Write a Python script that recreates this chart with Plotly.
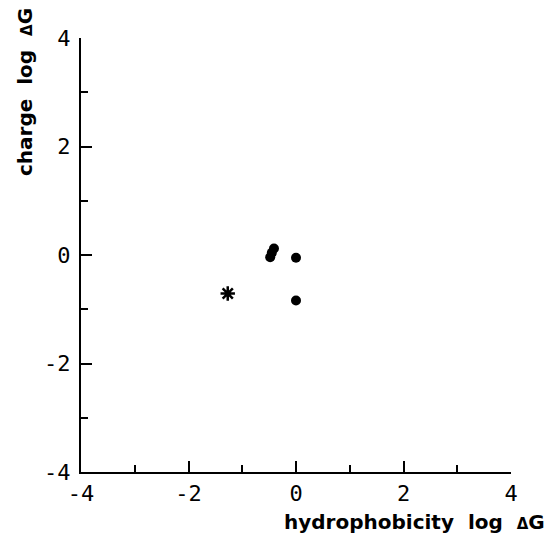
import plotly.graph_objects as go

# data
dot_x = [-0.48, -0.45, -0.41, 0.0, 0.0]
dot_y = [-0.04, 0.04, 0.12, -0.05, -0.84]
star_x = [-1.27]
star_y = [-0.71]
tick_vals = [-4, -2, 0, 2, 4]
tick_text = ["-4", "-2", "0", "2", "4"]
x_title = "hydrophobicity  log  <span style='font-size:15px'>Δ</span>G"
y_title = "charge  log  <span style='font-size:15px'>Δ</span>G"

fig = go.Figure()
fig.add_trace(go.Scatter(x=dot_x, y=dot_y, mode="markers",
                         marker=dict(symbol="circle", size=10, color="black"),
                         showlegend=False))
fig.add_trace(go.Scatter(x=star_x, y=star_y, mode="markers",
                         marker=dict(symbol="asterisk-open", size=12, color="black",
                                     line=dict(color="black", width=2.5)),
                         showlegend=False))

axis_common = dict(
    range=[-4, 4], tickvals=tick_vals, ticktext=tick_text,
    showgrid=False, zeroline=False, showline=True, linecolor="black",
    linewidth=2, ticks="inside", ticklen=11, tickwidth=2, tickcolor="black",
    minor=dict(dtick=1, tick0=0, ticks="inside", ticklen=7, tickwidth=2,
               tickcolor="black", showgrid=False),
    tickfont=dict(family="DejaVu Sans Mono", size=22, color="black"),
    fixedrange=True,
)
fig.update_xaxes(**axis_common, ticklabelstandoff=1)
fig.update_yaxes(**axis_common, ticklabelstandoff=4)

# plot area: x 81..511, y 38..472 in window pixels (page has 8px body margin)
fig.add_annotation(text=x_title, xref="paper", yref="paper",
                   x=(547 - 81) / 430, y=(472 - 522) / 434,
                   xanchor="right", yanchor="middle", showarrow=False,
                   font=dict(family="DejaVu Sans", size=20, color="black",
                             weight="bold"))
fig.add_annotation(text=y_title, xref="paper", yref="paper",
                   x=(25 - 81) / 430, y=(472 - 6) / 434, textangle=-90,
                   xanchor="center", yanchor="top", showarrow=False,
                   font=dict(family="DejaVu Sans", size=20, color="black",
                             weight="bold"))

fig.update_layout(width=547, height=536, plot_bgcolor="white",
                  paper_bgcolor="white",
                  margin=dict(l=73, r=44, t=30, b=72, autoexpand=False))
fig.write_html("out.html")
